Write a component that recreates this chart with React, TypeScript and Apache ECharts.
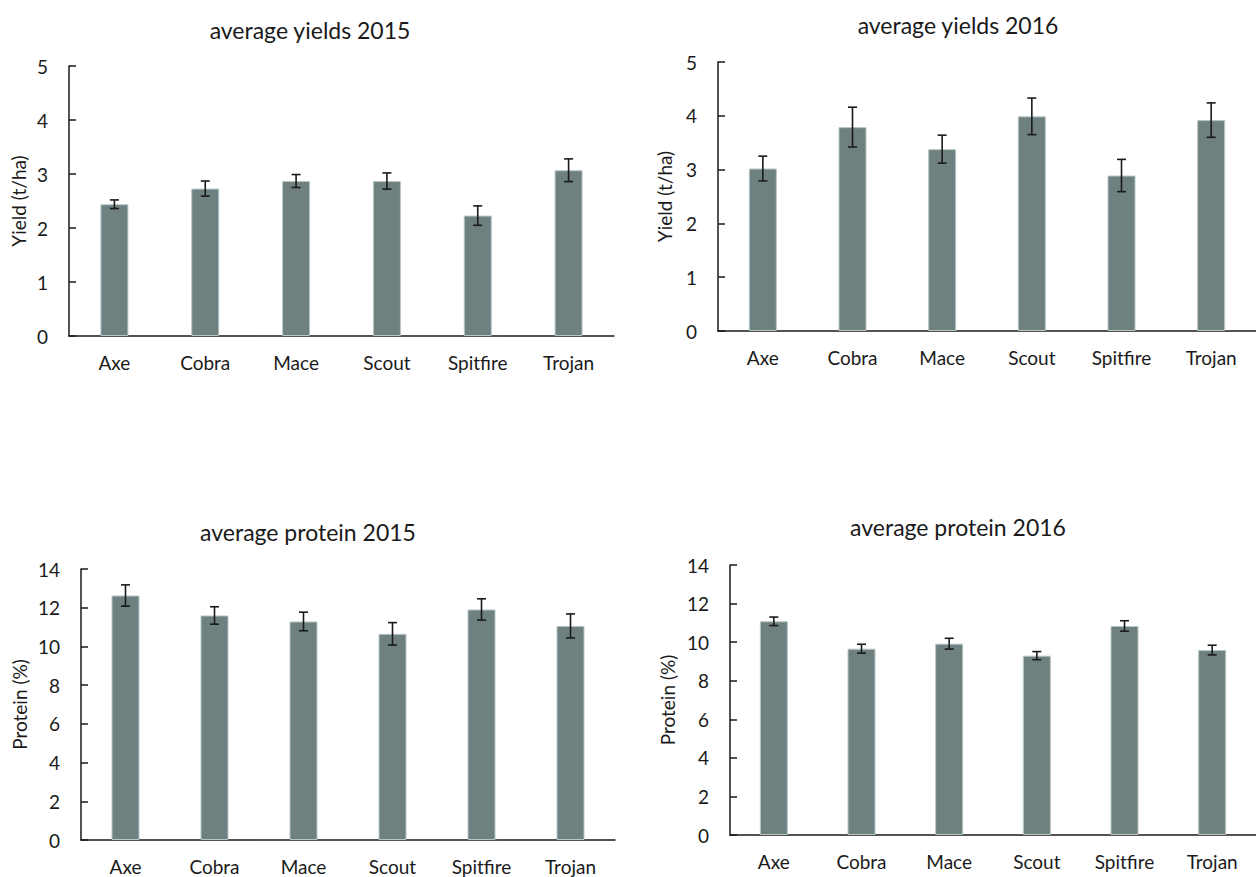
import React, { useEffect, useRef } from "react";
import * as echarts from "echarts";

const varieties = ["Axe", "Cobra", "Mace", "Scout", "Spitfire", "Trojan"];

const yield2015 = [2.44, 2.73, 2.87, 2.87, 2.23, 3.07];
const yield2015Err = [0.08, 0.14, 0.12, 0.15, 0.18, 0.21];
const yield2016 = [3.02, 3.79, 3.38, 3.99, 2.89, 3.92];
const yield2016Err = [0.23, 0.37, 0.26, 0.34, 0.3, 0.32];
const protein2015 = [12.63, 11.6, 11.29, 10.65, 11.91, 11.06];
const protein2015Err = [0.55, 0.45, 0.48, 0.58, 0.55, 0.62];
const protein2016 = [11.08, 9.66, 9.92, 9.3, 10.84, 9.59];
const protein2016Err = [0.22, 0.23, 0.28, 0.21, 0.27, 0.25];

const titles = ["average yields 2015", "average yields 2016", "average protein 2015", "average protein 2016"];
const yNames = ["Yield (t/ha)", "Yield (t/ha)", "Protein (%)", "Protein (%)"];
const yMax = [5, 5, 14, 14];
const yInterval = [1, 1, 2, 2];

const FONT = "Lato, 'Noto Sans', sans-serif";
const BAR = "#6e8080";
const INK = "#1a1a1a";

const panels = [
  { values: yield2015, errs: yield2015Err, grid: { left: 69, top: 66, width: 545, height: 270 }, title: [310, 30], nameGap: 41 },
  { values: yield2016, errs: yield2016Err, grid: { left: 718, top: 62, width: 547, height: 269 }, title: [958, 25], nameGap: 44 },
  { values: protein2015, errs: protein2015Err, grid: { left: 81, top: 569, width: 534, height: 271 }, title: [308, 532], nameGap: 52 },
  { values: protein2016, errs: protein2016Err, grid: { left: 730, top: 565, width: 540, height: 270 }, title: [958, 527], nameGap: 53 },
];

export default function App() {
  const ref = useRef<HTMLDivElement>(null);
  useEffect(() => {
    if (!ref.current) return;
    const chart = echarts.init(ref.current, undefined, { renderer: "svg" });
    const grids: any[] = [];
    const xAxes: any[] = [];
    const yAxes: any[] = [];
    const series: any[] = [];
    const graphics: any[] = [];
    panels.forEach((p, i) => {
      grids.push({ ...p.grid, containLabel: false });
      xAxes.push({
        type: "category",
        gridIndex: i,
        data: varieties,
        axisLine: { lineStyle: { color: INK, width: 1.5 } },
        axisTick: { show: false },
        axisLabel: { color: INK, fontFamily: FONT, fontSize: 19, margin: 17 },
      });
      yAxes.push({
        type: "value",
        gridIndex: i,
        min: 0,
        max: yMax[i],
        interval: yInterval[i],
        name: yNames[i],
        nameLocation: "middle",
        nameGap: p.nameGap,
        nameTextStyle: { color: INK, fontFamily: FONT, fontSize: 19 },
        axisLine: { show: true, lineStyle: { color: INK, width: 1.5 } },
        axisTick: { show: true, inside: true, length: 7, lineStyle: { color: INK, width: 1.5 } },
        axisLabel: { color: INK, fontFamily: FONT, fontSize: 19, margin: 21 },
        splitLine: { show: false },
      });
      series.push({
        type: "bar",
        xAxisIndex: i,
        yAxisIndex: i,
        data: p.values,
        barWidth: 28,
        itemStyle: { color: BAR, borderColor: "#b9c6c6", borderWidth: 1 },
      });
      series.push({
        type: "custom",
        xAxisIndex: i,
        yAxisIndex: i,
        z: 5,
        data: p.values.map((v, k) => [k, v, p.errs[k]]),
        encode: { x: 0, y: 1 },
        renderItem: (params: any, api: any) => {
          const x = api.value(0);
          const v = api.value(1);
          const e = api.value(2);
          const hi = api.coord([x, v + e]);
          const lo = api.coord([x, v - e]);
          const cap = 4.5;
          const st = { stroke: INK, lineWidth: 1.6 };
          return {
            type: "group",
            children: [
              { type: "line", shape: { x1: hi[0], y1: hi[1], x2: lo[0], y2: lo[1] }, style: st },
              { type: "line", shape: { x1: hi[0] - cap, y1: hi[1], x2: hi[0] + cap, y2: hi[1] }, style: st },
              { type: "line", shape: { x1: lo[0] - cap, y1: lo[1], x2: lo[0] + cap, y2: lo[1] }, style: st },
            ],
          };
        },
      });
      graphics.push({
        type: "text",
        x: p.title[0],
        y: p.title[1],
        style: {
          text: titles[i],
          fill: INK,
          font: `23px ${FONT}`,
          textAlign: "center",
          textVerticalAlign: "middle",
        },
      });
    });
    chart.setOption({
      animation: false,
      backgroundColor: "#ffffff",
      grid: grids,
      xAxis: xAxes,
      yAxis: yAxes,
      series,
      graphic: graphics,
    });
    return () => chart.dispose();
  }, []);
  return <div ref={ref} style={{ position: "absolute", left: 0, top: 0, width: 1256, height: 877 }} />;
}
